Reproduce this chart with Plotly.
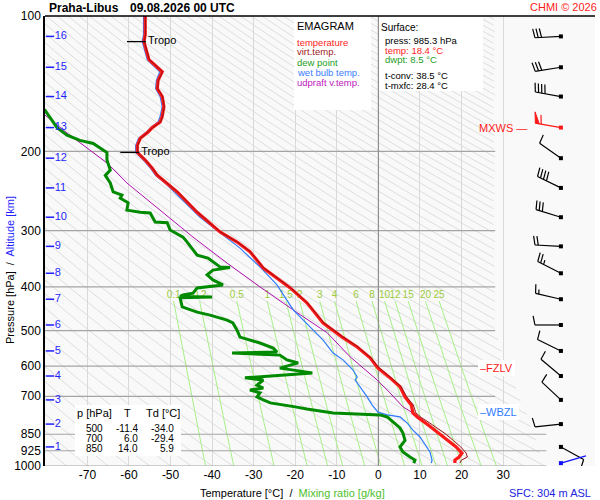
import numpy as np
import plotly.graph_objects as go

# Sounding Praha-Libus, 09.08.2026 00 UTC

# temperature and virtual temperature [hPa], [degC]
temp_p = [100, 110, 114, 119, 125, 133, 139, 145, 151, 159, 167, 172, 177, 181, 187, 194, 201, 209, 218, 226,
          246, 273, 302, 318, 334, 363, 382, 402, 434, 481, 517, 544, 575, 606, 637, 667, 702, 732, 762,
          780, 810, 844, 877, 907, 936, 955, 970, 985.3]
temp_t = [-56.1, -56.1, -56.4, -55.9, -55.2, -52.0, -53.0, -53.2, -52.0, -51.6, -52.0, -52.5, -54.4, -55.4,
          -57.3, -58.0, -58.0, -56.1, -54.4, -53.2,
          -48.4, -43.6, -38.1, -34.0, -30.9, -27.7, -24.4, -21.2, -17.2, -13.3, -8.7, -5.1, -2.0, -0.1, 2.8,
          5.2, 6.4, 7.9, 8.3,
          9.5, 11.9, 14.4, 16.8, 18.7, 20.1, 19.4, 18.4, 18.4]
virt_t = [-56.0, -56.0, -56.3, -55.8, -55.1, -51.9, -52.9, -53.1, -51.9, -51.5, -51.9, -52.4, -54.3, -55.3,
          -57.2, -57.9, -57.9, -56.0, -54.3, -53.1,
          -48.3, -43.5, -38.0, -33.9, -30.8, -27.6, -24.3, -21.1, -17.1, -13.1, -8.5, -4.9, -1.8, 0.2, 3.1,
          5.5, 6.8, 8.4, 9.0,
          10.3, 13.0, 15.8, 18.0, 19.8, 21.1, 21.4, 20.0, 19.6]

# wet bulb temperature
wb_p = [100, 110, 114, 119, 125, 133, 139, 145, 151, 159, 167, 172, 177, 181, 187, 194, 201, 209, 218, 226,
        235, 280, 328, 361, 396, 450, 499, 525, 561, 581, 612, 634, 644, 667, 702, 732, 759, 770, 778, 802,
        832, 862, 884, 931, 970, 985.3]
wb_t = [-56.5, -56.5, -56.8, -56.3, -55.6, -52.6, -53.4, -53.6, -52.5, -52.0, -52.5, -53.0, -54.8, -55.8,
        -57.7, -58.4, -58.4, -56.5, -54.8, -53.6,
        -51.3, -42.9, -33.3, -28.5, -24.4, -20.5, -15.7, -13.3, -10.9, -8.5, -6.1, -5.1, -5.6, -4.4, -2.7,
        -1.5, -0.1, 2.1, 5.2, 6.9,
        8.3, 10.0, 10.8, 12.4, 12.9, 12.7]

# dew point
dew_p = [150, 162, 177, 184, 189, 192, 201, 209, 220, 226, 235, 246, 250, 254, 260, 270, 273, 274, 287, 288,
         299, 310, 318, 340, 345, 361, 362, 367, 376, 386, 396, 400, 402, 413, 417, 420, 421, 423, 443, 455,
         462, 474, 481, 499, 517, 533, 547, 558, 561, 567, 581, 590, 606, 621, 637, 644, 661, 671, 678, 688,
         702, 713, 724, 739, 747, 762, 770, 778, 798, 823, 845, 877, 907, 931, 955, 970, 985.3]
dew_t = [-88.0, -80.2, -77.3, -74.9, -71.8, -68.6, -65.3, -65.3, -64.5, -65.7,
         -64.5, -63.8, -61.7, -62.1, -60.2, -60.5, -57.3, -54.9, -53.7, -50.8,
         -50.1, -47.0, -46.0, -43.6, -41.0, -38.1, -35.7, -39.8, -41.2, -39.8,
         -37.4, -41.2, -43.6, -44.6, -47.0, -47.7, -40.0, -47.7, -47.2, -43.6,
         -40.5, -36.4, -35.0, -34.0, -33.3, -28.5, -25.3, -24.4, -35.2, -23.7,
         -22.0, -19.3, -23.7, -15.9, -32.1, -27.7, -29.2, -27.7, -30.9, -28.5,
         -29.2, -27.7, -26.0, -20.0, -17.2, -10.9, 0.4, 2.1, 3.5, 5.2,
         5.9, 6.4, 5.2, 5.9, 7.6, 8.8, 8.5]

# updraft virtual temperature
parcel_p = [150, 166, 182, 196, 212, 235, 270, 310, 354, 400, 450, 506, 572, 644, 688, 739, 762, 790]
parcel_t = [-85.5, -80.2, -74.9, -70.1, -65.3, -60.5, -52.5, -44.6, -36.4, -28.5, -20.5, -12.3, -6.8, -0.3,
            2.8, 5.9, 8.3, 10.8]

# altitude marks [km] and their pressure
alt_km = list(range(1, 17))
alt_p = [907, 807, 713, 631, 555, 486, 426, 373, 325, 280, 241, 207, 177, 151, 130, 111]

# wind: surface + each km; direction [deg], speed
wind_p = [985.3] + alt_p
wind_dir = [74, 119, 264, 313, 310, 296, 270, 283, 297, 273, 287, 296, 305, 280, 280, 261, 267]
wind_spd = [2, 10, 10, 10, 10, 10, 10, 15, 25, 20, 30, 40, 10, 60, 40, 30, 30]
mxws_km = 13

# tropopauses
tropo_p = [114, 201]
tropo_t = [-56.4, -58.0]

# surface info and standard level table
sfc_press, sfc_temp, sfc_dwpt = 985.3, 18.4, 8.5
t_conv, t_mxfc = 38.5, 28.4
table_p = [500, 700, 850]
table_t = [-11.4, 6.0, 14.0]
table_td = [-34.0, -29.4, 5.9]

# axes / reference lines
temp_ticks = list(range(-70, 31, 10))
p_ticks = [100, 200, 300, 400, 500, 600, 700, 850, 925, 1000]
isobars = [200, 300, 400, 500, 600, 700, 850, 925, 1000]
mixing_ratios = [0.1, 0.2, 0.5, 1, 1.5, 2, 3, 4, 6, 8, 10, 12, 15, 20, 25]
theta_c = list(range(-85, 315, 5))

X_MIN, X_MAX = -80.2, 52.1
KX = 550 / (X_MAX - X_MIN)   # px per degC
KY = 450.0                   # px per pressure decade
BARB_T = 43.9                # column of the wind barbs
FONT = "Liberation Sans, Arial, sans-serif"

RED = "#ff1a1a"
DARKRED = "#9a1010"
GREEN = "#008a00"
BLUE = "#2f7cff"
PURPLE = "#b010b0"
ALT_BLUE = "#1f1fff"


def right_edge(p):
    # right end of the background lines
    if p <= 500:
        return 28.1
    return 28.1 + 12.3 * np.log10(p / 500) / np.log10(2)


def mr_temp(w, p):
    e = w * p / (622.0 + w)
    a = np.log(e / 6.112)
    return 243.5 * a / (17.67 - a)


def offset(t0, p0, dx, dy):
    return t0 + dx / KX, p0 * 10 ** (dy / KY)


def barb(p0, wdir, wspd, staff=26, blen=9, gap=3.3):
    b = np.radians(wdir)
    s = np.array([np.sin(b), -np.cos(b)])
    n = np.array([np.cos(b), np.sin(b)])

    def pt(d, h=0.0):
        v = s * (d + 0.2 * h) + n * h
        return offset(BARB_T, p0, v[0], v[1])

    segs = [[pt(0), pt(staff)]]
    flags = []
    spd = int(5 * round(wspd / 5))
    n50, rest = divmod(spd, 50)
    n10, rest = divmod(rest, 10)
    pos = staff
    for _ in range(n50):
        flags.append([pt(pos), pt(pos, blen + 2), pt(pos - 4), pt(pos)])
        pos -= 6
    for _ in range(n10):
        segs.append([pt(pos), pt(pos, blen)])
        pos -= gap
    if rest >= 5:
        if pos == staff:
            pos -= gap
        segs.append([pt(pos), pt(pos, blen / 2)])
    return segs, flags


def join(polys):
    xs, ys = [], []
    for poly in polys:
        for x, y in poly:
            xs.append(x)
            ys.append(y)
        xs.append(None)
        ys.append(None)
    return xs, ys


# screen pixel -> paper fraction (plot area spans 45..595 x 16..466)
def px(x):
    return (x - 45) / 550


def py(y):
    return 1 - (y - 16) / 450


fig = go.Figure()

# dry adiabats
p_grid = np.geomspace(100, 1000, 400)
adiab = []
for th in theta_c:
    t = (th + 273.15) * (p_grid / 1000) ** 0.2857 - 273.15
    keep = [(tt, pp) for tt, pp in zip(t, p_grid) if tt <= right_edge(pp)]
    if len(keep) > 1:
        adiab.append(keep)
ax, ay = join(adiab)
fig.add_trace(go.Scatter(x=ax, y=ay, mode="lines", line=dict(color="#dadada", width=0.9), hoverinfo="skip"))

# mixing ratio lines
p_mr = np.geomspace(430, 1000, 20)
mr_lines = [list(zip(mr_temp(w, p_mr), p_mr)) for w in mixing_ratios]
mx, my = join(mr_lines)
fig.add_trace(go.Scatter(x=mx, y=my, mode="lines", line=dict(color="#a8f088", width=1), hoverinfo="skip"))
fig.add_trace(go.Scatter(
    x=[mr_temp(w, 430) for w in mixing_ratios], y=[418] * len(mixing_ratios),
    text=[f"{w:g}" for w in mixing_ratios], mode="text",
    textfont=dict(color="#9ccc3c", size=10, family=FONT), hoverinfo="skip"))

# isobars and 0 degC isotherm
iso = [[(X_MIN, p), (28.1 if p < 800 else 40.4, p)] for p in isobars]
ix, iy = join(iso)
fig.add_trace(go.Scatter(x=ix, y=iy, mode="lines", line=dict(color="#a4a4a4", width=1.2), hoverinfo="skip"))
fig.add_trace(go.Scatter(x=[0, 0], y=[100, 1000], mode="lines", line=dict(color="#8e8e8e", width=1.2),
                         hoverinfo="skip"))

# profiles
fig.add_trace(go.Scatter(x=parcel_t, y=parcel_p, mode="lines", line=dict(color=PURPLE, width=1)))
fig.add_trace(go.Scatter(x=wb_t, y=wb_p, mode="lines", line=dict(color=BLUE, width=1.2)))
fig.add_trace(go.Scatter(x=dew_t, y=dew_p, mode="lines", line=dict(color=GREEN, width=3)))
fig.add_trace(go.Scatter(x=temp_t, y=temp_p, mode="lines", line=dict(color=RED, width=3.2)))
fig.add_trace(go.Scatter(x=virt_t, y=temp_p, mode="lines", line=dict(color=DARKRED, width=1)))

# tropopause marks
tro = [[offset(t, p, -17, 0), offset(t, p, 2, 0)] for t, p in zip(tropo_t, tropo_p)]
tx, ty = join(tro)
fig.add_trace(go.Scatter(x=tx, y=ty, mode="lines", line=dict(color="black", width=1.3), hoverinfo="skip"))
fig.add_trace(go.Scatter(
    x=[offset(t, p, 4, 0)[0] for t, p in zip(tropo_t, tropo_p)], y=tropo_p, text=["Tropo"] * len(tropo_p),
    mode="text", textposition="middle right", textfont=dict(size=11, color="black", family=FONT)))

# altitude ticks
fig.add_trace(go.Scatter(
    x=[-79.0] * len(alt_km), y=alt_p, text=[str(k) for k in alt_km], mode="markers+text",
    textposition="middle right",
    marker=dict(symbol="line-ew", size=6, line=dict(color=ALT_BLUE, width=1.5)),
    textfont=dict(size=11, color=ALT_BLUE, family=FONT)))

# wind barbs
groups = {"black": ([], []), RED: ([], []), "#1010ff": ([], [])}
dots = {"black": [], RED: [], "#1010ff": []}
for i, (p, d, v) in enumerate(zip(wind_p, wind_dir, wind_spd)):
    col = "#1010ff" if i == 0 else (RED if i == mxws_km else "black")
    segs, flags = barb(p, d, v)
    sx, sy = join(segs)
    groups[col][0].extend(sx)
    groups[col][1].extend(sy)
    dots[col].append(p)
    if flags:
        fx, fy = join(flags)
        fig.add_trace(go.Scatter(x=fx, y=fy, mode="lines", fill="toself", fillcolor=col,
                                 line=dict(color=col, width=1)))
for col, (gx, gy) in groups.items():
    fig.add_trace(go.Scatter(x=gx, y=gy, mode="lines", line=dict(color=col, width=1.2)))
    fig.add_trace(go.Scatter(x=[BARB_T] * len(dots[col]), y=dots[col], mode="markers",
                             marker=dict(symbol="square", size=4, color=col)))


# freezing / wet bulb zero levels
def zero_level(pp, tt):
    for k in range(len(tt) - 1, 0, -1):
        if tt[k] > 0 >= tt[k - 1]:
            return np.interp(0, [tt[k - 1], tt[k]], [pp[k - 1], pp[k]])
    return None


fzlv = zero_level(temp_p, temp_t)
wbzl = zero_level(wb_p, wb_t)

ann = []


def text(x, y, s, color="black", size=10, anchor="left", bold=False, angle=0):
    ann.append(dict(x=px(x), y=py(y), xref="paper", yref="paper", text=f"<b>{s}</b>" if bold else s,
                    showarrow=False, xanchor=anchor, yanchor="middle", textangle=angle,
                    borderpad=0, borderwidth=0,
                    font=dict(family=FONT, size=size, color=color)))


def level_label(x, p, s, color, anchor="left", bg=None):
    ann.append(dict(x=px(x), y=np.log10(p), xref="paper", yref="y", text=s, showarrow=False,
                    xanchor=anchor, yanchor="middle", bgcolor=bg, borderpad=2, borderwidth=0,
                    font=dict(family=FONT, size=11, color=color)))


level_label(478, fzlv, "\u2013FZLV", RED, bg="white")
level_label(478, wbzl, "\u2013WBZL", BLUE, bg="white")
level_label(529, alt_p[mxws_km - 1], "MXWS \u2014", RED, anchor="right")

# header
text(49, 8, "Praha-Libus", size=12, bold=True)
text(130, 8, "09.08.2026 00 UTC", size=12, bold=True)
text(597, 7, "CHMI \u00a9 2026", color=RED, size=11, anchor="right")

# legend box
text(297, 26, "EMAGRAM", size=11)
for k, (lab, col) in enumerate([("temperature", RED), ("virt.temp.", "#a01c1c"), ("dew point", "#1e9e1e"),
                                ("wet bulb temp.", "#3b7dff"), ("udpraft v.temp.", "#c020c0")]):
    text(297, 42 + 10 * k, lab, color=col, size=9.5)

# surface box
text(381, 27, "Surface:", size=10)
text(385, 40, f"press: {sfc_press} hPa", size=9.5)
text(385, 50, f"temp: {sfc_temp} \u00b0C", color=RED, size=9.5)
text(385, 60, f"dwpt: {sfc_dwpt} \u00b0C", color="#1e9e1e", size=9.5)
text(385, 75, f"t-conv: {t_conv} \u00b0C", size=9.5)
text(385, 85, f"t-mxfc: {t_mxfc} \u00b0C", size=9.5)

# standard level table
text(77, 413, "p [hPa]", size=11)
text(124, 413, "T", size=11)
text(146, 413, "Td [\u00b0C]", size=11)
for k, (p, t, td) in enumerate(zip(table_p, table_t, table_td)):
    yy = 428 + 10 * k
    text(103, yy, f"{p}", size=10, anchor="right")
    text(138, yy, f"{t:.1f}", size=10, anchor="right")
    text(174, yy, f"{td:.1f}", size=10, anchor="right")

# axis titles and footer
text(292, 493, "Temperature [\u00b0C]  /  <span style='color:#4cc02c'>Mixing ratio [g/kg]</span>",
     size=11, anchor="center")
ann.append(dict(x=px(10), y=py(270), xref="paper", yref="paper", showarrow=False, textangle=-90,
                xanchor="center", yanchor="middle",
                text=f"Pressure [hPa]  /  <span style='color:{ALT_BLUE}'>Altitude [km]</span>",
                font=dict(family=FONT, size=11, color="black")))
text(591, 493, "SFC: 304 m ASL", color="#2222dd", size=11, anchor="right")

shapes = [
    dict(type="rect", xref="paper", yref="paper", x0=px(294), x1=px(371), y0=py(110), y1=py(16.5),
         fillcolor="white", line=dict(width=0), layer="above"),
    dict(type="rect", xref="paper", yref="paper", x0=px(379), x1=px(483), y0=py(91), y1=py(16.5),
         fillcolor="white", line=dict(width=0), layer="above"),
    dict(type="rect", xref="paper", yref="paper", x0=px(75), x1=px(181), y0=py(456), y1=py(405),
         fillcolor="white", line=dict(width=0), layer="above"),
    dict(type="line", xref="paper", yref="paper", x0=0, x1=1, y0=1, y1=1, line=dict(color="black", width=1.5)),
]

fig.update_layout(
    width=600, height=500,
    margin=dict(l=45, r=5, t=16, b=34),
    paper_bgcolor="white", plot_bgcolor="#f9f9f9",
    showlegend=False,
    font=dict(family=FONT, size=12, color="black"),
    xaxis=dict(range=[X_MIN, X_MAX], tickvals=temp_ticks, ticktext=[str(t) for t in temp_ticks],
               showgrid=True, gridcolor="#d9d9d9", gridwidth=1, zeroline=False, showline=False,
               ticks="", tickfont=dict(size=12)),
    yaxis=dict(type="log", range=[3, 2], tickvals=p_ticks, ticktext=[str(p) for p in p_ticks],
               showgrid=False, zeroline=False, showline=True, linecolor="black", linewidth=1.5,
               ticks="", tickfont=dict(size=12)),
    annotations=ann,
    shapes=shapes,
)

# drop the default page margin so the figure fills the window exactly
fig.write_html("out.html", config={"displayModeBar": False},
               post_script="document.body.style.margin = '0';")
